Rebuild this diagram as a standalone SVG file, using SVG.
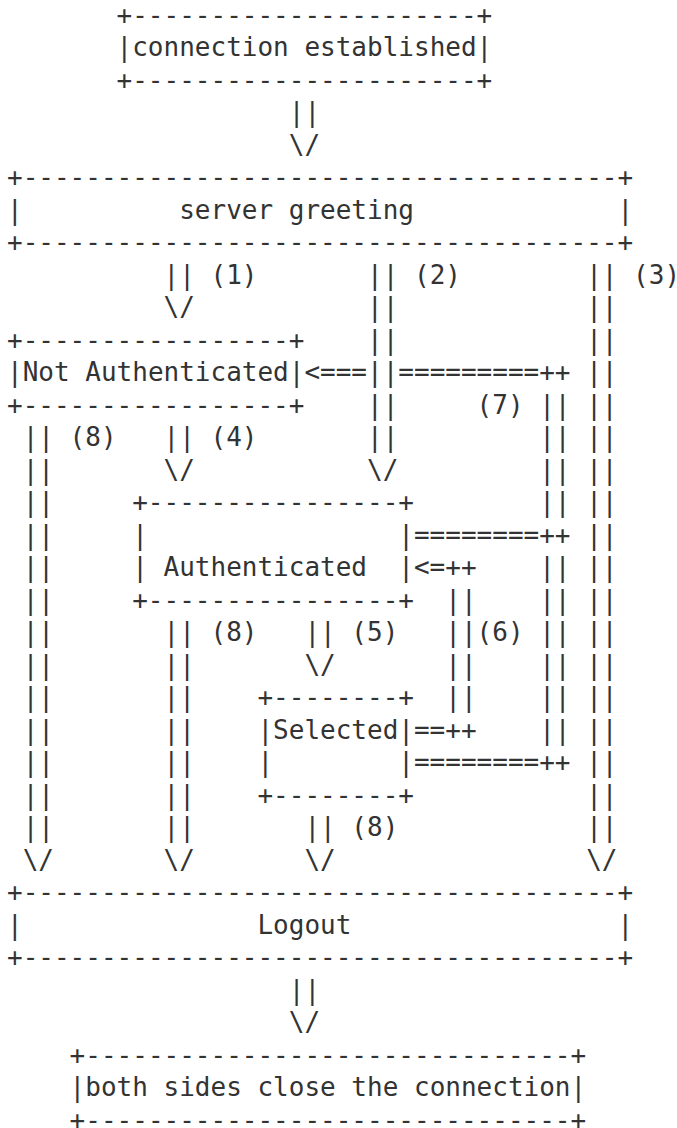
<svg xmlns="http://www.w3.org/2000/svg" width="677" height="1128" viewBox="0 0 677 1128" xml:space="preserve">
<style>
text{font-family:"DejaVu Sans Mono","Liberation Mono",monospace;font-size:26px;fill:#333;white-space:pre}
</style>
<rect width="677" height="1128" fill="#fff"/>
<g id="node-connection-established">
<text x="116.57" y="23.5">+----------------------+</text>
<text x="116.57" y="56">|connection established|</text>
<text x="116.57" y="88.5">+----------------------+</text>
</g>
<g id="node-server-greeting">
<text x="7" y="186">+--------------------------------------+</text>
<text x="7" y="218.5">|          server greeting             |</text>
<text x="7" y="251">+--------------------------------------+</text>
</g>
<g id="node-not-authenticated">
<text x="7" y="348.5">+-----------------+</text>
<text x="7" y="381">|Not Authenticated|</text>
<text x="7" y="413.5">+-----------------+</text>
</g>
<g id="node-authenticated">
<text x="132.22" y="511">+----------------+</text>
<text x="132.22" y="543.5">|                |</text>
<text x="132.22" y="576">| Authenticated  |</text>
<text x="132.22" y="608.5">+----------------+</text>
</g>
<g id="node-selected">
<text x="257.45" y="706">+--------+</text>
<text x="257.45" y="738.5">|Selected|</text>
<text x="257.45" y="771">|        |</text>
<text x="257.45" y="803.5">+--------+</text>
</g>
<g id="node-logout">
<text x="7" y="901">+--------------------------------------+</text>
<text x="7" y="933.5">|               Logout                 |</text>
<text x="7" y="966">+--------------------------------------+</text>
</g>
<g id="node-close">
<text x="69.61" y="1063.5">+-------------------------------+</text>
<text x="69.61" y="1096">|both sides close the connection|</text>
<text x="69.61" y="1128.5">+-------------------------------+</text>
</g>
<g id="connectors">
<text x="288.75" y="121">||</text>
<text x="288.75" y="153.5">\/</text>
<text x="163.53" y="283.5">|| (1)</text>
<text x="367.02" y="283.5">|| (2)</text>
<text x="586.16" y="283.5">|| (3)</text>
<text x="163.53" y="316">\/</text>
<text x="367.02" y="316">||</text>
<text x="586.16" y="316">||</text>
<text x="367.02" y="348.5">||</text>
<text x="586.16" y="348.5">||</text>
<text x="304.41" y="381">&lt;===||=========++</text>
<text x="586.16" y="381">||</text>
<text x="367.02" y="413.5">||</text>
<text x="476.59" y="413.5">(7)</text>
<text x="539.2" y="413.5">||</text>
<text x="586.16" y="413.5">||</text>
<text x="22.65" y="446">|| (8)</text>
<text x="163.53" y="446">|| (4)</text>
<text x="367.02" y="446">||</text>
<text x="539.2" y="446">||</text>
<text x="586.16" y="446">||</text>
<text x="22.65" y="478.5">||</text>
<text x="163.53" y="478.5">\/</text>
<text x="367.02" y="478.5">\/</text>
<text x="539.2" y="478.5">||</text>
<text x="586.16" y="478.5">||</text>
<text x="22.65" y="511">||</text>
<text x="539.2" y="511">||</text>
<text x="586.16" y="511">||</text>
<text x="22.65" y="543.5">||</text>
<text x="413.98" y="543.5">========++</text>
<text x="586.16" y="543.5">||</text>
<text x="22.65" y="576">||</text>
<text x="413.98" y="576">&lt;=++</text>
<text x="539.2" y="576">||</text>
<text x="586.16" y="576">||</text>
<text x="22.65" y="608.5">||</text>
<text x="445.28" y="608.5">||</text>
<text x="539.2" y="608.5">||</text>
<text x="586.16" y="608.5">||</text>
<text x="22.65" y="641">||</text>
<text x="163.53" y="641">|| (8)</text>
<text x="304.41" y="641">|| (5)</text>
<text x="445.28" y="641">||(6)</text>
<text x="539.2" y="641">||</text>
<text x="586.16" y="641">||</text>
<text x="22.65" y="673.5">||</text>
<text x="163.53" y="673.5">||</text>
<text x="304.41" y="673.5">\/</text>
<text x="445.28" y="673.5">||</text>
<text x="539.2" y="673.5">||</text>
<text x="586.16" y="673.5">||</text>
<text x="22.65" y="706">||</text>
<text x="163.53" y="706">||</text>
<text x="445.28" y="706">||</text>
<text x="539.2" y="706">||</text>
<text x="586.16" y="706">||</text>
<text x="22.65" y="738.5">||</text>
<text x="163.53" y="738.5">||</text>
<text x="413.98" y="738.5">==++</text>
<text x="539.2" y="738.5">||</text>
<text x="586.16" y="738.5">||</text>
<text x="22.65" y="771">||</text>
<text x="163.53" y="771">||</text>
<text x="413.98" y="771">========++</text>
<text x="586.16" y="771">||</text>
<text x="22.65" y="803.5">||</text>
<text x="163.53" y="803.5">||</text>
<text x="586.16" y="803.5">||</text>
<text x="22.65" y="836">||</text>
<text x="163.53" y="836">||</text>
<text x="304.41" y="836">|| (8)</text>
<text x="586.16" y="836">||</text>
<text x="22.65" y="868.5">\/</text>
<text x="163.53" y="868.5">\/</text>
<text x="304.41" y="868.5">\/</text>
<text x="586.16" y="868.5">\/</text>
<text x="288.75" y="998.5">||</text>
<text x="288.75" y="1031">\/</text>
</g>
</svg>
